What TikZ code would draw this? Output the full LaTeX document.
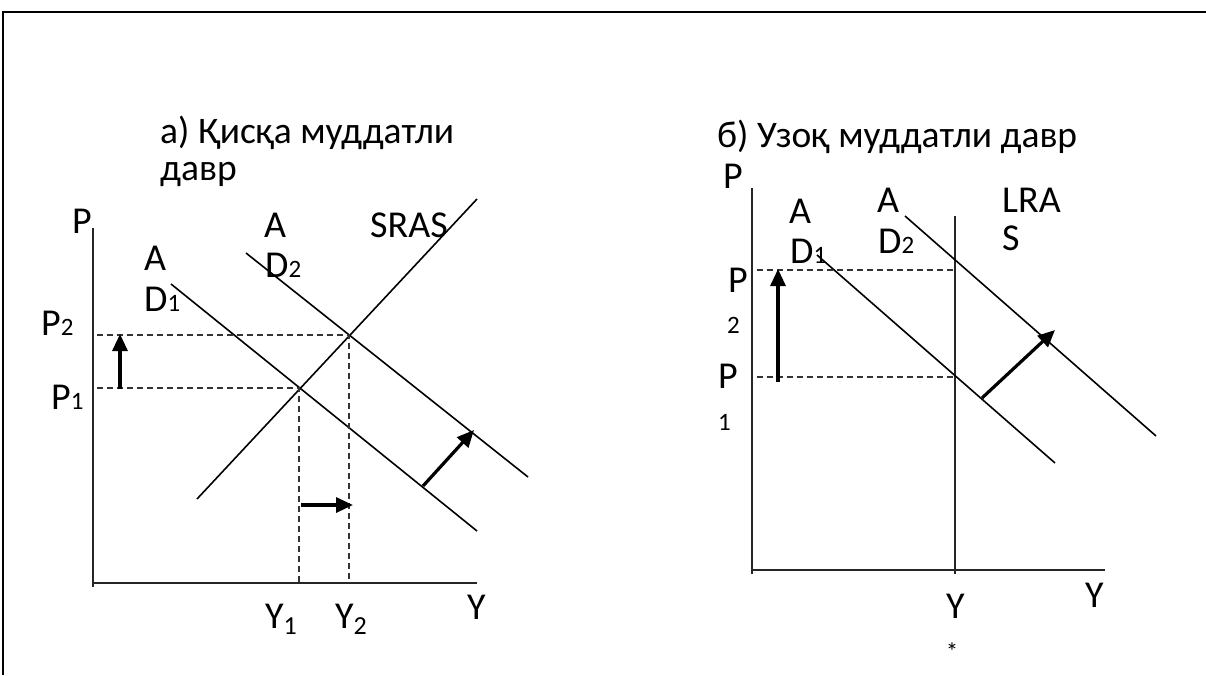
\documentclass[tikz,border=0pt]{standalone}
\usepackage{fontspec}
\setmainfont{Carlito}
\usetikzlibrary{arrows.meta}
\begin{document}
\begin{tikzpicture}[x=1pt,y=-1pt,
  curve/.style={line width=1.6pt,black},
  axisline/.style={line width=2.3pt,black!85},
  guide/.style={line width=1.4pt,dash pattern=on 6pt off 4pt,black!80},
  shiftarrow/.style={line width=3.2pt,-{Triangle[length=17pt,width=15pt]}},
  lbl/.style={font=\fontsize{38}{40}\selectfont,inner sep=0pt,anchor=base west},
  ttl/.style={font=\fontsize{37.5}{40}\selectfont,inner sep=0pt,anchor=base west},
]
\newcommand{\sdig}[1]{{\fontsize{25}{25}\selectfont #1}}
\newcommand{\ldig}[1]{\raisebox{-6pt}{\fontsize{26}{26}\selectfont #1}}
\useasboundingbox (0,0) rectangle (1206,675);
% frame
\coordinate (fbl) at (3,675);
\coordinate (ftl) at (3,12);
\coordinate (ftr) at (1206,12);
\draw[line width=2.2pt] (fbl) -- (ftl) -- (ftr);

% ---------- left panel ----------
\coordinate (Ltop) at (93,228);
\coordinate (Lbot) at (93,587);
\coordinate (Lo) at (93,583);
\coordinate (Lx) at (477,583);
\draw[axisline] (Ltop) -- (Lbot);
\draw[axisline] (Lo) -- (Lx);
\coordinate (E1) at (299,388);
\coordinate (E2) at (349,335);
\coordinate (ad1a) at (171,284);
\coordinate (ad1b) at (477,531);
\coordinate (ad2a) at (246,253);
\coordinate (ad2b) at (528,477);
\coordinate (sra) at (197,499);
\coordinate (srb) at (477,199);
\draw[curve] (ad1a) -- (ad1b);
\draw[curve] (ad2a) -- (ad2b);
\draw[curve] (sra) -- (srb);
\coordinate (LP2) at (97,335);
\coordinate (LP1) at (97,388);
\coordinate (LY1) at (299,583);
\coordinate (LY2) at (349,583);
\draw[guide] (LP2) -- (E2) -- (LY2);
\draw[guide] (LP1) -- (E1) -- (LY1);
\coordinate (ua) at (120,389);
\coordinate (ub) at (120,334);
\draw[shiftarrow] (ua) -- (ub);
\coordinate (ha) at (301,505);
\coordinate (hb) at (353,505);
\draw[shiftarrow] (ha) -- (hb);
\coordinate (da) at (423,486);
\coordinate (db) at (474,430);
\draw[shiftarrow] (da) -- (db);

\node[ttl] (t1a) at (160,143) {а) Қисқа муддатли};
\node[ttl] (t1b) at (160,180) {давр};
\node[lbl] (lP) at (72,233) {P};
\node[lbl] (lA1) at (144,270) {A};
\node[lbl] (lD1) at (144,311) {D\sdig{1}};
\node[lbl] (lA2) at (264,237) {A};
\node[lbl] (lD2) at (265,277) {D\sdig{2}};
\node[lbl] (lSRAS) at (370,237) {SRAS};
\node[lbl] (lP2) at (41,335) {P\sdig{2}};
\node[lbl] (lP1) at (51,409) {P\sdig{1}};
\node[lbl] (lY1) at (265,628) {Y\ldig{1}};
\node[lbl] (lY2) at (335,628) {Y\ldig{2}};
\node[lbl] (lY) at (467,619) {Y};

% ---------- right panel ----------
\coordinate (Rtop) at (752,188);
\coordinate (Rbot) at (752,574);
\coordinate (Ro) at (752,570);
\coordinate (Rx) at (1105,570);
\draw[axisline] (Rtop) -- (Rbot);
\draw[axisline] (Ro) -- (Rx);
\coordinate (lrt) at (955,216);
\coordinate (lrb) at (955,574);
\draw[axisline] (lrt) -- (lrb);
\coordinate (r1a) at (817,255);
\coordinate (r1b) at (1055,463);
\coordinate (r2a) at (905,216);
\coordinate (r2b) at (1156,436);
\draw[curve] (r1a) -- (r1b);
\draw[curve] (r2a) -- (r2b);
\coordinate (RP2a) at (757,270);
\coordinate (RP2b) at (955,270);
\coordinate (RP1a) at (757,377);
\coordinate (RP1b) at (955,377);
\draw[guide] (RP2a) -- (RP2b);
\draw[guide] (RP1a) -- (RP1b);
\coordinate (rua) at (778,382);
\coordinate (rub) at (778,269);
\draw[shiftarrow] (rua) -- (rub);
\coordinate (rda) at (982,398);
\coordinate (rdb) at (1055,330);
\draw[shiftarrow] (rda) -- (rdb);

\node[ttl] (t2) at (717,147) {б) Узоқ муддатли давр};
\node[lbl] (rP) at (723,188) {P};
\node[lbl] (rA1) at (789,223) {A};
\node[lbl] (rD1) at (790,263) {D\sdig{1}};
\node[lbl] (rA2) at (877,212) {A};
\node[lbl] (rD2) at (878,253) {D\sdig{2}};
\node[lbl] (rL1) at (1002,212) {LRA};
\node[lbl] (rL2) at (1002,250) {S};
\node[lbl] (rP2) at (728,292) {P};
\node[lbl] (rP2s) at (727,333) {\sdig{2}};
\node[lbl] (rP1) at (718,388) {P};
\node[lbl] (rP1s) at (718,430) {\sdig{1}};
\node[lbl] (rY) at (946,618) {Y};
\node[lbl,anchor=center] (rYs) at (952,652) {\sdig{*}};
\node[lbl] (rYax) at (1085,607) {Y};
\end{tikzpicture}
\end{document}
